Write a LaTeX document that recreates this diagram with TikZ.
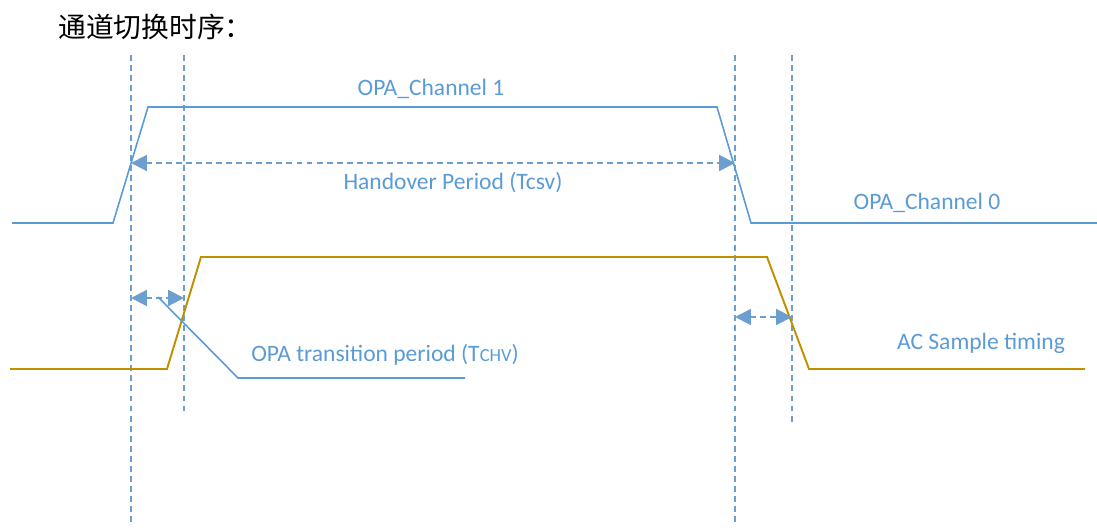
\documentclass[tikz,border=0pt]{standalone}
\usepackage{fontspec}
\setmainfont{Carlito}
\newfontfamily\cjk{Noto Sans CJK SC}
\usetikzlibrary{arrows.meta}
\definecolor{cChan}{RGB}{91,155,213}
\definecolor{cSamp}{RGB}{191,144,0}
\definecolor{cGuide}{RGB}{108,158,208}

\begin{document}
\begin{tikzpicture}[
  x=0.02cm, y=-0.02cm,
  font=\fontsize{13.4}{16}\selectfont,
  wave/.style={draw=#1, line width=0.9pt, line join=miter},
  guide/.style={draw=cGuide, line width=1.2pt, dash pattern=on 3.4pt off 2.3pt},
  span/.style={guide, {Triangle[length=9pt,width=9pt]}-{Triangle[length=9pt,width=9pt]}},
  lbl/.style={text=cChan, inner sep=0pt},
]
\useasboundingbox (0,0) rectangle (1097,530);

% Title
\node[font=\cjk\fontsize{15.8}{18}\selectfont, anchor=west, inner sep=0pt] (title)
  at (58,27) {通道切换时序：};

% Guide lines
\coordinate (ga) at (131,55);  \coordinate (gaEnd) at (131,522);
\coordinate (gb) at (184,55);  \coordinate (gbEnd) at (184,415);
\coordinate (gc) at (735,55);  \coordinate (gcEnd) at (735,522);
\coordinate (gd) at (792,55);  \coordinate (gdEnd) at (792,423);
\draw[guide] (ga) -- (gaEnd);
\draw[guide] (gb) -- (gbEnd);
\draw[guide] (gc) -- (gcEnd);
\draw[guide] (gd) -- (gdEnd);

% Channel waveform
\draw[wave=cChan] (12,223) -- (113,223) -- (148,107) -- (717,107)
  -- (751,223) -- (1097,223);
% Sample waveform
\draw[wave=cSamp, line width=1.1pt] (10,369) -- (167,369) -- (201,257) -- (767,257)
  -- (809,369) -- (1085,369);

% Spans
\coordinate (hStart) at (131,163);
\coordinate (hEnd) at (735,163);
\coordinate (tStart) at (131,298);
\coordinate (tEnd) at (184,298);
\coordinate (sStart) at (735,317);
\coordinate (sEnd) at (792,317);
\draw[span] (hStart) -- (hEnd);
\draw[span] (tStart) -- (tEnd);
\draw[span] (sStart) -- (sEnd);

% Labels
\node[lbl] (chOne) at (431,89) {OPA\_Channel 1};
\node[lbl] (chZero) at (927,203) {OPA\_Channel 0};
\node[lbl] (hand) at (453,183) {Handover Period (Tcsv)};
\node[lbl] (trans) at (385,355)
  {OPA transition period (T{\fontsize{10.5}{12}\selectfont CHV})};
\node[lbl] (samp) at (981,343) {AC Sample timing};

% Leader to transition label
\coordinate (leadA) at (158,297);
\coordinate (leadB) at (238,378);
\coordinate (leadC) at (465,378);
\draw[wave=cChan] (leadA) -- (leadB) -- (leadC);

\end{tikzpicture}
\end{document}
